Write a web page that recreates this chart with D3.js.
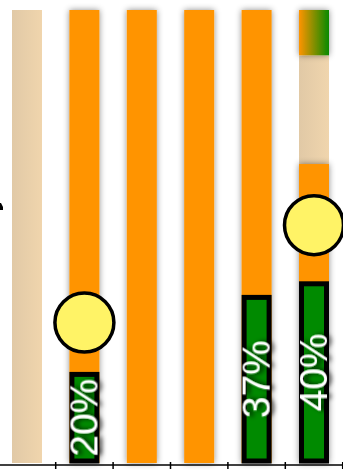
<!DOCTYPE html>
<html><head><meta charset="utf-8">
<script src="https://cdn.jsdelivr.net/npm/d3@7"></script>
<style>html,body{margin:0;padding:0;background:#fff;overflow:hidden}svg{display:block}</style>
</head><body>
<svg id="chart" width="343" height="472"></svg>
<script>
// ---- data ----
const categories = ["c1", "c2", "c3", "c4", "c5", "c6"];
const beigeSeries = [[0, 100], null, null, null, null, [66, 90]];
const orangeSeries = [null, [0, 100], [0, 100], [0, 100], [0, 100], [0, 66]];
const gradientSeries = [null, null, null, null, null, [90, 100]];
const greenValues = [null, 20, null, 0, 37, 40];
const markerValues = [null, 31, null, null, null, 52.5];
const tickLabels = ["", "", "", "", "", ""];

const W = 343, H = 472;
const svg = d3.select("#chart");
const defs = svg.append("defs");

const bg = defs.append("linearGradient").attr("id", "beige").attr("x1", 0).attr("x2", 1).attr("y1", 0).attr("y2", 0);
bg.append("stop").attr("offset", "0%").attr("stop-color", "#e1c9a6");
bg.append("stop").attr("offset", "100%").attr("stop-color", "#f0d5ad");
const og = defs.append("linearGradient").attr("id", "og").attr("x1", 0).attr("x2", 1).attr("y1", 0).attr("y2", 0);
og.append("stop").attr("offset", "0%").attr("stop-color", "#ff9400");
og.append("stop").attr("offset", "100%").attr("stop-color", "#078a00");

const sh = defs.append("filter").attr("id", "barShadow").attr("x", "-50%").attr("y", "-50%").attr("width", "200%").attr("height", "200%");
sh.append("feDropShadow").attr("dx", 0).attr("dy", 0).attr("stdDeviation", 3).attr("flood-color", "#000").attr("flood-opacity", 0.45);
const ts = defs.append("filter").attr("id", "textShadow").attr("x", "-50%").attr("y", "-50%").attr("width", "200%").attr("height", "200%");
ts.append("feDropShadow").attr("dx", 0).attr("dy", 4).attr("stdDeviation", 2.5).attr("flood-color", "#000").attr("flood-opacity", 0.9);

const x = d3.scaleBand().domain(categories).range([12, 329]).paddingInner(0.4774).paddingOuter(0);
const y = d3.scaleLinear().domain([0, 100]).range([463, 10]);
const bw = x.bandwidth();

function segs(series) {
  return categories.map((c, i) => ({c, s: series[i]})).filter(d => d.s);
}

// beige
svg.append("g").selectAll("rect").data(segs(beigeSeries)).join("rect")
  .attr("x", d => x(d.c)).attr("width", bw)
  .attr("y", d => y(d.s[1])).attr("height", d => y(d.s[0]) - y(d.s[1]))
  .attr("fill", "url(#beige)");
// orange
svg.append("g").selectAll("rect").data(segs(orangeSeries)).join("rect")
  .attr("x", d => x(d.c)).attr("width", bw)
  .attr("y", d => y(d.s[1])).attr("height", d => y(d.s[0]) - y(d.s[1]))
  .attr("fill", "#ff9400").attr("filter", "url(#barShadow)");
// gradient
svg.append("g").selectAll("rect").data(segs(gradientSeries)).join("rect")
  .attr("x", d => x(d.c)).attr("width", bw)
  .attr("y", d => y(d.s[1])).attr("height", d => y(d.s[0]) - y(d.s[1]))
  .attr("fill", "url(#og)").attr("filter", "url(#barShadow)");

// green value bars
const gv = categories.map((c, i) => ({c, v: greenValues[i]})).filter(d => d.v !== null);
svg.append("g").selectAll("rect").data(gv).join("rect")
  .attr("x", d => x(d.c) + 2.5).attr("width", bw - 5)
  .attr("y", d => y(d.v) + 2).attr("height", d => Math.max(0, y(0) - y(d.v) - 4))
  .attr("fill", "#008a00").attr("stroke", "#000").attr("stroke-width", 5);

// labels
svg.append("g").selectAll("text").data(gv.filter(d => d.v > 0)).join("text")
  .attr("transform", d => `translate(${x(d.c) + bw / 2 - 1},${(y(d.v) + y(0)) / 2}) rotate(-90)`)
  .attr("text-anchor", "middle").attr("dominant-baseline", "central")
  .attr("font-family", "Liberation Sans, Arial, sans-serif").attr("font-size", 39)
  .attr("fill", "#fff").attr("filter", "url(#textShadow)")
  .text(d => d.v + "%");

// markers
const mv = categories.map((c, i) => ({c, v: markerValues[i]})).filter(d => d.v !== null);
svg.append("g").selectAll("circle").data(mv).join("circle")
  .attr("cx", d => x(d.c) + bw / 2).attr("cy", d => y(d.v)).attr("r", 29.5)
  .attr("fill", "#fff366").attr("stroke", "#000").attr("stroke-width", 3.5);

// axis with ticks at band boundaries
const xt = x.copy().range([12 + x.step() / 2, 329 + x.step() / 2]);
const ax = svg.append("g").attr("transform", "translate(0,465)")
  .call(d3.axisBottom(xt).tickSize(4).tickSizeOuter(0).tickFormat((d, i) => tickLabels[i]));
ax.select(".domain").remove();
ax.selectAll(".tick line").attr("y1", -3).attr("stroke", "#000").attr("stroke-width", 1.5);
ax.append("line").attr("x1", 0).attr("x2", W).attr("stroke", "#000").attr("stroke-width", 1.5);

// clipped fragment at the left edge
svg.append("path").attr("d", "M-3,203 L1,203 L3,207 L3,210 L-3,210 Z").attr("fill", "#000");
</script>
</body></html>
